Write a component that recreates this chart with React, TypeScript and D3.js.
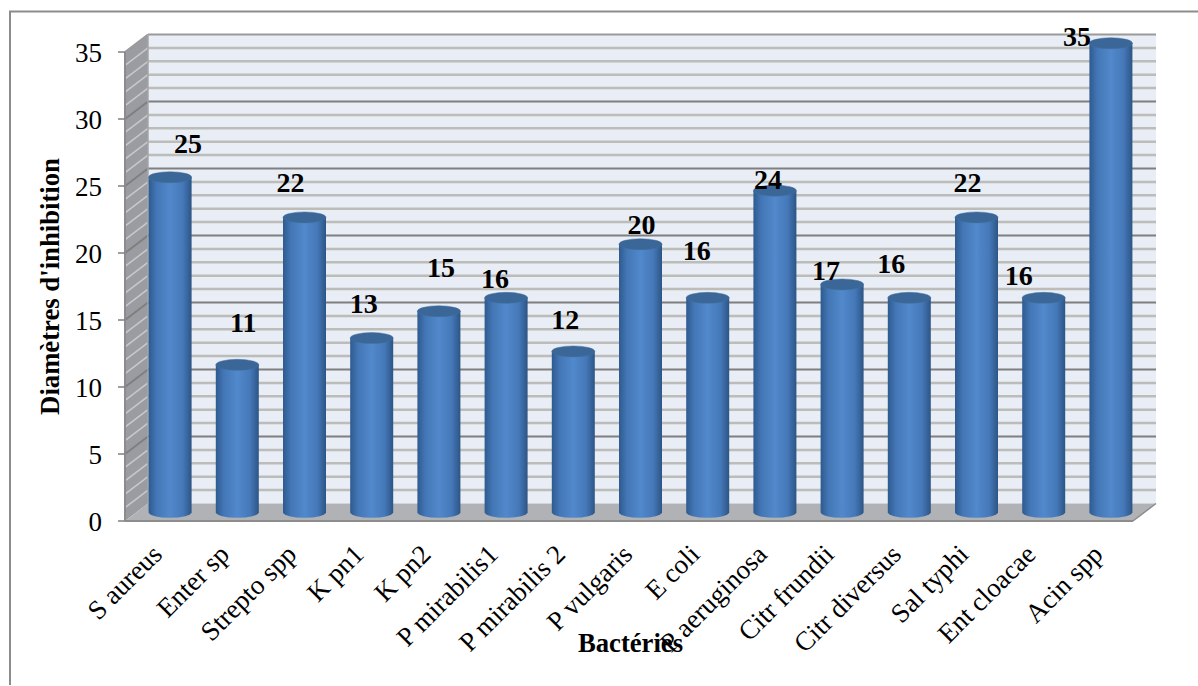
import React from "react";
import * as d3 from "d3";

const categories = ["S aureus", "Enter sp", "Strepto spp", "K pn1", "K pn2", "P mirabilis1", "P mirabilis 2", "P vulgaris", "E coli", "P aeruginosa", "Citr frundii", "Citr diversus", "Sal typhi", "Ent cloacae", "Acin spp"];
const inhibition = [25, 11, 22, 13, 15, 16, 12, 20, 16, 24, 17, 16, 22, 16, 35];
const majorTicks = [0, 5, 10, 15, 20, 25, 30, 35];
const minorTicks = d3.range(0, 36);
// Hand-placed data label centres, as offsets from the top of each column
const labelDx = [18, 6, -14, -8, 2, -11, -8, 1, -11, -7, -16, -18, -9, -25, -34];
const labelDy = [-33, -42, -35, -34, -43, -19, -32, -19, -47, -11, -14, -34, -35, -22, -6];

const W = 1198, H = 686;
const FRONT_LEFT = 125, FRONT_RIGHT = 1133, FRONT_BOTTOM = 521, FRONT_TOP = 52;
const DX = 23, DY = 17.5;
const BAR_W = 43, CAP_RY = 5.5;
const SERIF = "'Liberation Serif', 'Times New Roman', serif";

const y = d3.scaleLinear().domain([0, 35]).range([FRONT_BOTTOM, FRONT_TOP]);
const x = d3.scaleBand<string>().domain(categories).range([FRONT_LEFT, FRONT_RIGHT]);

export default function App() {
  const barCx = (c: string) => x(c)! + x.bandwidth() / 2 + DX / 2;
  const rx = BAR_W / 2;
  const barTop = (v: number) => y(v) - DY / 2;
  const barBase = y(0) - DY / 2;
  return (
    <svg width={W} height={H} style={{ position: "fixed", left: 0, top: 0, background: "#fff" }} fontFamily={SERIF}>
      <defs>
        <linearGradient id="cyl" x1="0" x2="1" y1="0" y2="0">
          <stop offset="0" stopColor="#2e5a8e" />
          <stop offset="0.18" stopColor="#4376b5" />
          <stop offset="0.5" stopColor="#5189cc" />
          <stop offset="0.8" stopColor="#4578b8" />
          <stop offset="1" stopColor="#2c5586" />
        </linearGradient>
      </defs>
      {/* chart frame */}
      <path d={`M10,${H - 1} V11.5 H${W}`} fill="none" stroke="#8c8c8c" strokeWidth={2} />

      {/* back wall, side wall, floor */}
      <rect x={FRONT_LEFT + DX} y={FRONT_TOP - DY} width={FRONT_RIGHT - FRONT_LEFT} height={FRONT_BOTTOM - FRONT_TOP} fill="#e9edf6" />
      <polygon points={`${FRONT_LEFT},${FRONT_TOP} ${FRONT_LEFT + DX},${FRONT_TOP - DY} ${FRONT_LEFT + DX},${FRONT_BOTTOM - DY} ${FRONT_LEFT},${FRONT_BOTTOM}`} fill="#9a9ca1" />
      <polygon points={`${FRONT_LEFT},${FRONT_BOTTOM} ${FRONT_LEFT + DX},${FRONT_BOTTOM - DY} ${FRONT_RIGHT + DX},${FRONT_BOTTOM - DY} ${FRONT_RIGHT},${FRONT_BOTTOM}`} fill="#b0b2b6" />

      {/* minor then major gridlines, bent across the two walls */}
      {minorTicks.filter((t) => t % 5 !== 0).map((t) => (
        <g key={t} stroke="#bcbcb8" strokeWidth={2.5}>
          <line x1={FRONT_LEFT + DX} x2={FRONT_RIGHT + DX} y1={y(t) - DY} y2={y(t) - DY} />
          <line x1={FRONT_LEFT} x2={FRONT_LEFT + DX} y1={y(t)} y2={y(t) - DY} stroke="#c8c9cb" strokeWidth={1.5} />
        </g>
      ))}
      {majorTicks.filter((t) => t > 0).map((t) => (
        <g key={t} stroke={t === 35 ? "#9a9a9a" : "#7f7f7f"} strokeWidth={2}>
          <line x1={FRONT_LEFT + DX} x2={FRONT_RIGHT + DX} y1={y(t) - DY} y2={y(t) - DY} />
          <line x1={FRONT_LEFT} x2={FRONT_LEFT + DX} y1={y(t)} y2={y(t) - DY} />
        </g>
      ))}

      {/* value axis */}
      <line x1={FRONT_LEFT} x2={FRONT_LEFT} y1={FRONT_TOP} y2={FRONT_BOTTOM} stroke="#8c8c8c" strokeWidth={2} />
      <line x1={FRONT_LEFT} x2={FRONT_RIGHT} y1={FRONT_BOTTOM} y2={FRONT_BOTTOM} stroke="#8c8c8c" strokeWidth={2} />
      <line x1={FRONT_LEFT + DX} x2={FRONT_LEFT + DX} y1={FRONT_TOP - DY} y2={FRONT_BOTTOM - DY} stroke="#a5a6a8" strokeWidth={1.5} />
      <line x1={FRONT_RIGHT} x2={FRONT_RIGHT + DX} y1={FRONT_BOTTOM} y2={FRONT_BOTTOM - DY} stroke="#8c8c8c" strokeWidth={1.5} />
      {majorTicks.map((t) => (
        <g key={t}>
          <line x1={FRONT_LEFT - 7} x2={FRONT_LEFT} y1={y(t)} y2={y(t)} stroke="#7f7f7f" strokeWidth={1.5} />
          <text x={FRONT_LEFT - 23} y={y(t) + 1} dy="0.33em" textAnchor="end" fontSize={27} fill="#000">{t}</text>
        </g>
      ))}

      {/* cylindrical columns */}
      {categories.map((c, i) => {
        const cx = barCx(c);
        const top = barTop(inhibition[i]);
        return (
          <g key={c}>
            <path
              d={`M${cx - rx},${top} V${barBase} A${rx},${CAP_RY} 0 0 0 ${cx + rx},${barBase} V${top} Z`}
              fill="url(#cyl)"
            />
            <ellipse cx={cx} cy={top} rx={rx} ry={CAP_RY} fill="#3a6698" stroke="#41709f" strokeWidth={0.5} />
          </g>
        );
      })}

      {/* data labels */}
      {categories.map((c, i) => (
        <text key={c} x={barCx(c) + labelDx[i]} y={barTop(inhibition[i]) + labelDy[i]} dy="0.33em" textAnchor="middle" fontSize={28} fontWeight="bold" fill="#000">
          {inhibition[i]}
        </text>
      ))}

      {/* category labels */}
      {categories.map((c) => (
        <text key={c} transform={`translate(${x(c)! + x.bandwidth() / 2 + 5},556) rotate(-45)`} textAnchor="end" fontSize={27} fill="#000">
          {c}
        </text>
      ))}

      {/* axis titles */}
      <text transform="translate(59,286.5) rotate(-90)" textAnchor="middle" fontSize={26.7} fontWeight="bold" fill="#000">Diamètres d'inhibition</text>
      <text x={630.5} y={652} textAnchor="middle" fontSize={26.7} fontWeight="bold" fill="#000">Bactéries</text>
    </svg>
  );
}
